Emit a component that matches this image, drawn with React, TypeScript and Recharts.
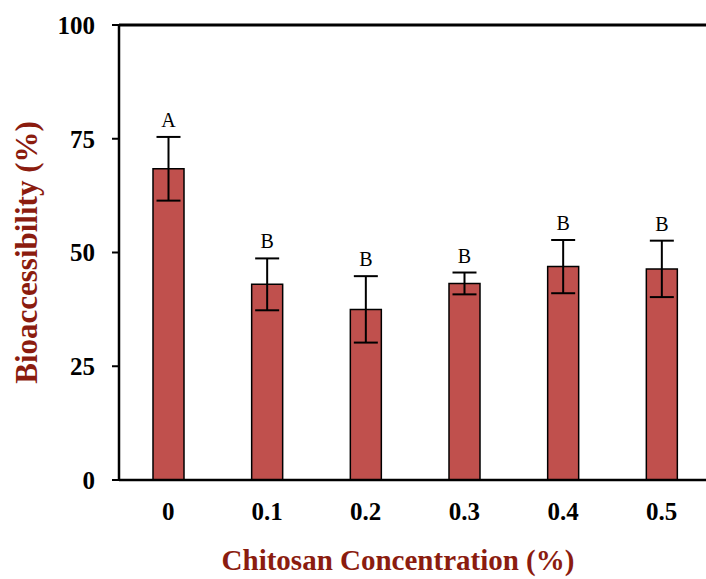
import React from 'react';
import {
  BarChart,
  Bar,
  XAxis,
  YAxis,
  ErrorBar,
  LabelList,
  ReferenceLine,
} from 'recharts';

const concentrations = ['0', '0.1', '0.2', '0.3', '0.4', '0.5'];
const bioaccessibility = [68.4, 43.0, 37.5, 43.2, 46.9, 46.4];
const errors = [7.0, 5.7, 7.3, 2.4, 5.85, 6.2];
const letters = ['A', 'B', 'B', 'B', 'B', 'B'];
const yTicks = [0, 25, 50, 75, 100];

const data = concentrations.map((c, i) => ({
  conc: c,
  value: bioaccessibility[i],
  err: errors[i],
  letter: letters[i],
}));

const FONT = '"Liberation Serif", "Times New Roman", serif';
const TITLE_COLOR = '#8B1C0F';

const LetterLabel = (props: any) => {
  const { x, y, width, height, index } = props;
  const v = bioaccessibility[index];
  const pxPerUnit = height / v;
  const errTop = y - errors[index] * pxPerUnit;
  return (
    <text
      x={x + width / 2}
      y={errTop - 10}
      textAnchor="middle"
      fontFamily={FONT}
      fontSize={20}
      fill="#000"
    >
      {letters[index]}
    </text>
  );
};

export default function App() {
  return (
    <div style={{ position: 'absolute', left: 0, top: 0, background: '#fff' }}>
      <BarChart
        width={706}
        height={579}
        data={data}
        margin={{ top: 25, right: -5, left: 0, bottom: 0 }}
      >
        <XAxis
          dataKey="conc"
          height={99}
          axisLine={{ stroke: '#000', strokeWidth: 2.5 }}
          tickLine={false}
          tickSize={0}
          tickMargin={22}
          tick={{ fill: '#000', fontFamily: FONT, fontSize: 25, fontWeight: 'bold' }}
          label={{
            content: (p: any) => {
              const vb = p.viewBox;
              return (
                <text
                  x={vb.x + vb.width / 2 - 17}
                  y={vb.y + 90}
                  textAnchor="middle"
                  fontFamily={FONT}
                  fontSize={29}
                  fontWeight="bold"
                  fill={TITLE_COLOR}
                >
                  Chitosan Concentration (%)
                </text>
              );
            },
          }}
        />
        <YAxis
          width={119}
          domain={[0, 100]}
          ticks={yTicks}
          interval={0}
          axisLine={{ stroke: '#000', strokeWidth: 2.5 }}
          tickLine={{ stroke: '#000', strokeWidth: 2 }}
          tickSize={7}
          tickMargin={17}
          tick={{ fill: '#000', fontFamily: FONT, fontSize: 25, fontWeight: 'bold' }}
          label={{
            content: (p: any) => {
              const vb = p.viewBox;
              const cx = vb.x + 26;
              const cy = vb.y + vb.height / 2;
              return (
                <text
                  x={cx}
                  y={cy}
                  transform={`rotate(-90 ${cx} ${cy})`}
                  textAnchor="middle"
                  dominantBaseline="central"
                  fontFamily={FONT}
                  fontSize={31}
                  fontWeight="bold"
                  fill={TITLE_COLOR}
                >
                  Bioaccessibility (%)
                </text>
              );
            },
          }}
        />
        <ReferenceLine y={100} stroke="#000" strokeWidth={3} />
        <Bar
          dataKey="value"
          fill="#C0504D"
          stroke="#000"
          strokeWidth={1.5}
          barSize={31}
          isAnimationActive={false}
        >
          <ErrorBar dataKey="err" width={12} stroke="#000" strokeWidth={2} direction="y" />
          <LabelList dataKey="letter" content={LetterLabel} />
        </Bar>
      </BarChart>
    </div>
  );
}
